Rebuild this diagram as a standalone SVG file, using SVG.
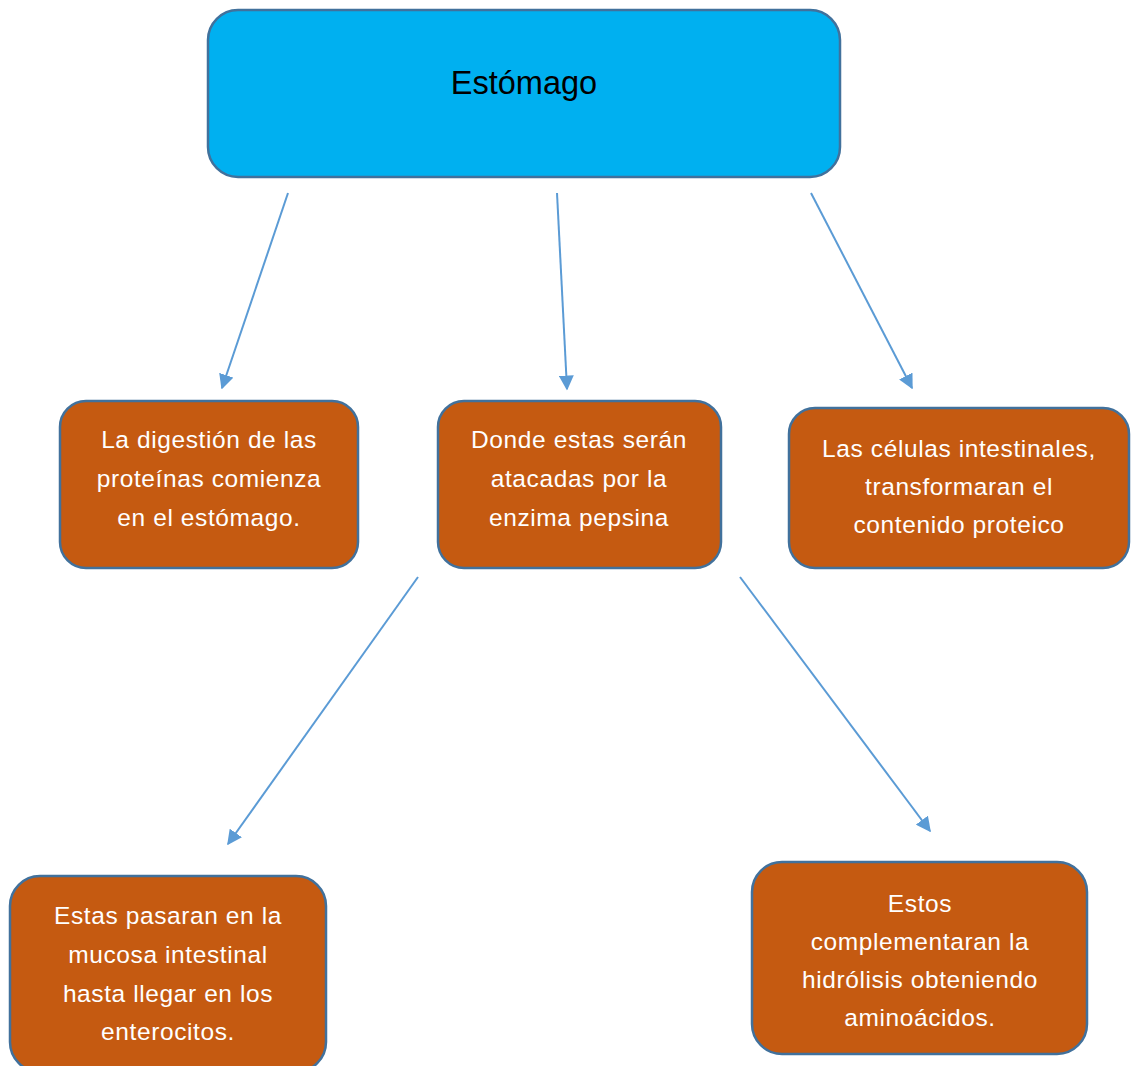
<svg xmlns="http://www.w3.org/2000/svg" width="1131" height="1066" viewBox="0 0 1131 1066">
<defs>
<style>
.box{fill:#C55A11;stroke:#41719C;stroke-width:2.5}
.top{fill:#00B0F0;stroke:#41719C;stroke-width:2.5}
.t{font-family:"Liberation Sans",Arial,sans-serif;font-size:24.5px;fill:#FFFFFF;text-anchor:middle;letter-spacing:0.6px}
.tt{font-family:"Liberation Sans",Arial,sans-serif;font-size:32.5px;fill:#000000;text-anchor:middle}
.c{stroke:#5B9BD5;stroke-width:2;fill:none;marker-end:url(#ah)}
</style>
<marker id="ah" viewBox="0 0 10 10" refX="9" refY="5" markerWidth="7.5" markerHeight="7.5" orient="auto" markerUnits="strokeWidth">
<path d="M0,0 L10,5 L0,10 z" fill="#5B9BD5"/>
</marker>
</defs>
<rect width="1131" height="1066" fill="#FFFFFF"/>
<g id="connectors">
<line class="c" x1="288" y1="193" x2="222" y2="388"/>
<line class="c" x1="557" y1="193" x2="567" y2="389"/>
<line class="c" x1="811" y1="193" x2="912" y2="388"/>
<line class="c" x1="418" y1="577" x2="228" y2="844"/>
<line class="c" x1="740" y1="577" x2="930" y2="831"/>
</g>
<g id="estomago">
<rect class="top" x="208" y="10" width="632" height="167" rx="30"/>
<text class="tt" x="524" y="94">Estómago</text>
</g>
<g id="digestion">
<rect class="box" x="60" y="401" width="298" height="167" rx="26"/>
<text class="t" x="209" y="448">La digestión de las</text>
<text class="t" x="209" y="487">proteínas comienza</text>
<text class="t" x="209" y="526">en el estómago.</text>
</g>
<g id="pepsina">
<rect class="box" x="438" y="401" width="283" height="167" rx="26"/>
<text class="t" x="579" y="448">Donde estas serán</text>
<text class="t" x="579" y="487">atacadas por la</text>
<text class="t" x="579" y="526">enzima pepsina</text>
</g>
<g id="celulas">
<rect class="box" x="789" y="408" width="340" height="160" rx="26"/>
<text class="t" x="959" y="457">Las células intestinales,</text>
<text class="t" x="959" y="495">transformaran el</text>
<text class="t" x="959" y="533">contenido proteico</text>
</g>
<g id="mucosa">
<rect class="box" x="10" y="876" width="316" height="196" rx="30"/>
<text class="t" x="168" y="924">Estas pasaran en la</text>
<text class="t" x="168" y="963">mucosa intestinal</text>
<text class="t" x="168" y="1002">hasta llegar en los</text>
<text class="t" x="168" y="1040">enterocitos.</text>
</g>
<g id="hidrolisis">
<rect class="box" x="752" y="862" width="335" height="192" rx="30"/>
<text class="t" x="920" y="912">Estos</text>
<text class="t" x="920" y="950">complementaran la</text>
<text class="t" x="920" y="988">hidrólisis obteniendo</text>
<text class="t" x="920" y="1026">aminoácidos.</text>
</g>
</svg>
